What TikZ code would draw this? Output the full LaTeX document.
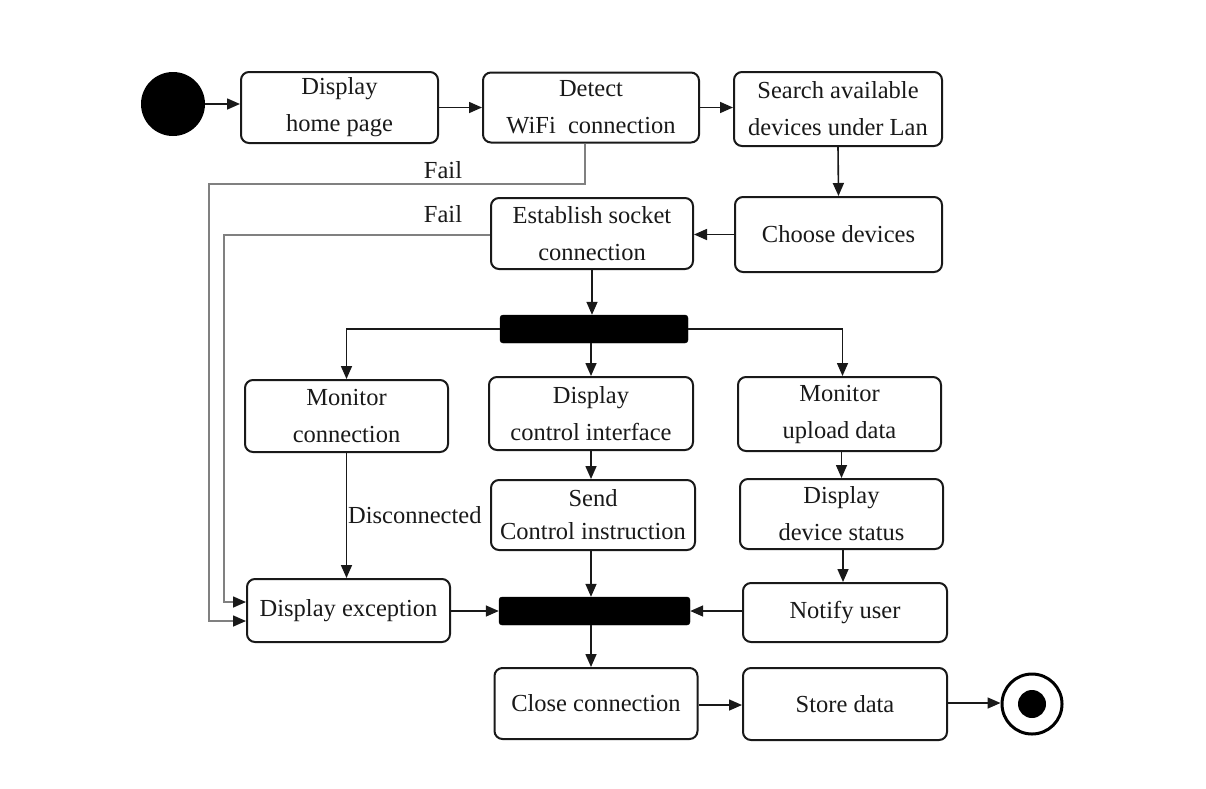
\documentclass[tikz,border=0pt]{standalone}
\usepackage{fontspec}
\setmainfont{Liberation Serif}
\usetikzlibrary{arrows.meta}
\tikzset{
  bx/.style 2 args={draw=black!90, line width=2pt, rounded corners=8pt, align=center, inner sep=0pt,
    minimum width=#1pt, minimum height=#2pt, text=black!90, font=\fontsize{24.5}{37}\selectfont},
  bar/.style 2 args={fill=black, draw=black, rounded corners=3pt, minimum width=#1pt, minimum height=#2pt, inner sep=0pt},
  arr/.style={-{Triangle[length=13pt,width=11pt]}, line width=1.6pt, draw=black!90},
  fail/.style={-{Triangle[length=13pt,width=11pt,color=black!90]}, line width=1.6pt, draw=black!50},
  lbl/.style={text=black!90, font=\fontsize{24.5}{30}\selectfont, inner sep=0pt}
}
\begin{document}
\begin{tikzpicture}[x=1pt,y=-1pt]
\useasboundingbox (0,0) rectangle (1206,788);
% start / end
\node[circle, fill=black, minimum size=64pt, inner sep=0pt] (start) at (173,104) {};
\node[circle, draw=black, line width=3pt, minimum size=60pt, inner sep=0pt] (end) at (1032,704) {};
\node[circle, fill=black, minimum size=28pt, inner sep=0pt] (endin) at (1032,704) {};
% boxes
\node[bx={197}{71}] (home) at (339.5,107.5) {Display\\home page};
\node[bx={216}{70}] (detect) at (591,107.5) {Detect\\WiFi\ \ connection};
\node[bx={208}{74}] (search) at (838,109) {Search available\\devices under Lan};
\node[bx={207}{75}] (choose) at (838.5,234.5) {Choose devices};
\node[bx={202}{71}] (establish) at (592,233.5) {Establish socket\\connection};
\node[bar={188}{28}] (fork) at (594,329) {};
\node[bx={203}{72}] (monconn) at (346.5,416) {Monitor\\connection};
\node[bx={204}{73}] (dispctrl) at (591,413.5) {Display\\control interface};
\node[bx={203}{74}] (monup) at (839.5,414) {Monitor\\upload data};
\node[bx={204}{70}] (send) at (593,515) {Send\\[-4pt]Control instruction};
\node[bx={203}{70}] (devstat) at (841.5,514) {Display\\device status};
\node[bx={203}{63}] (exception) at (348.5,610.5) {Display exception};
\node[bar={191}{28}] (join) at (594.5,611) {};
\node[bx={204}{59}] (notify) at (845,612.5) {Notify user};
\node[bx={203}{71}] (close) at (596,703.5) {Close connection};
\node[bx={204}{72}] (store) at (845,704) {Store data};
% connectors
\draw[arr] (start) -- (start -| home.west);
\draw[arr] (home) -- (detect);
\draw[arr] (detect) -- (detect -| search.west);
\draw[arr] (search.south) -- (choose.north);
\draw[arr] (choose.west) -- (choose.west -| establish.east);
\draw[arr] (establish.south) -- (establish.south |- fork.north);
\draw[arr] (fork.west) -| (monconn.north);
\draw[arr] (fork.south -| dispctrl.south) -- (dispctrl.north);
\draw[arr] (fork.east) -| ([xshift=3pt]monup.north);
\draw[arr] (dispctrl.south) -- (dispctrl.south |- send.north);
\draw[arr] ([xshift=2pt]monup.south) -- ([xshift=2pt]monup.south |- devstat.north);
\draw[arr] ([xshift=1.5pt]devstat.south) -- ([xshift=1.5pt]devstat.south |- notify.north);
\draw[arr] (monconn.south) -- (monconn.south |- exception.north);
\draw[arr] (exception.east |- join.west) -- (join.west);
\draw[arr] (notify.west |- join.east) -- (join.east);
\draw[arr] (send.south -| dispctrl.south) -- (dispctrl.south |- join.north);
\draw[arr] (join.south -| dispctrl.south) -- (dispctrl.south |- close.north);
\draw[arr] (close.east |- 0,705) -- (store.west |- 0,705);
\draw[arr] (store.east |- 0,703) -- (end.west |- 0,703);
% fail paths
\coordinate (f1) at (209,184);
\coordinate (f2) at (224,400);
\draw[fail] ([xshift=-6pt]detect.south) |- (f1) |- ([yshift=-10.5pt]exception.west);
\draw[fail] ([yshift=-1.5pt]establish.west) -| (f2) |- ([yshift=8.5pt]exception.west);
% labels
\node[lbl] (fail1) at (443,170) {Fail};
\node[lbl] (fail2) at (443,214) {Fail};
\node[lbl, anchor=west] (disc) at (348,515) {Disconnected};
\end{tikzpicture}
\end{document}
